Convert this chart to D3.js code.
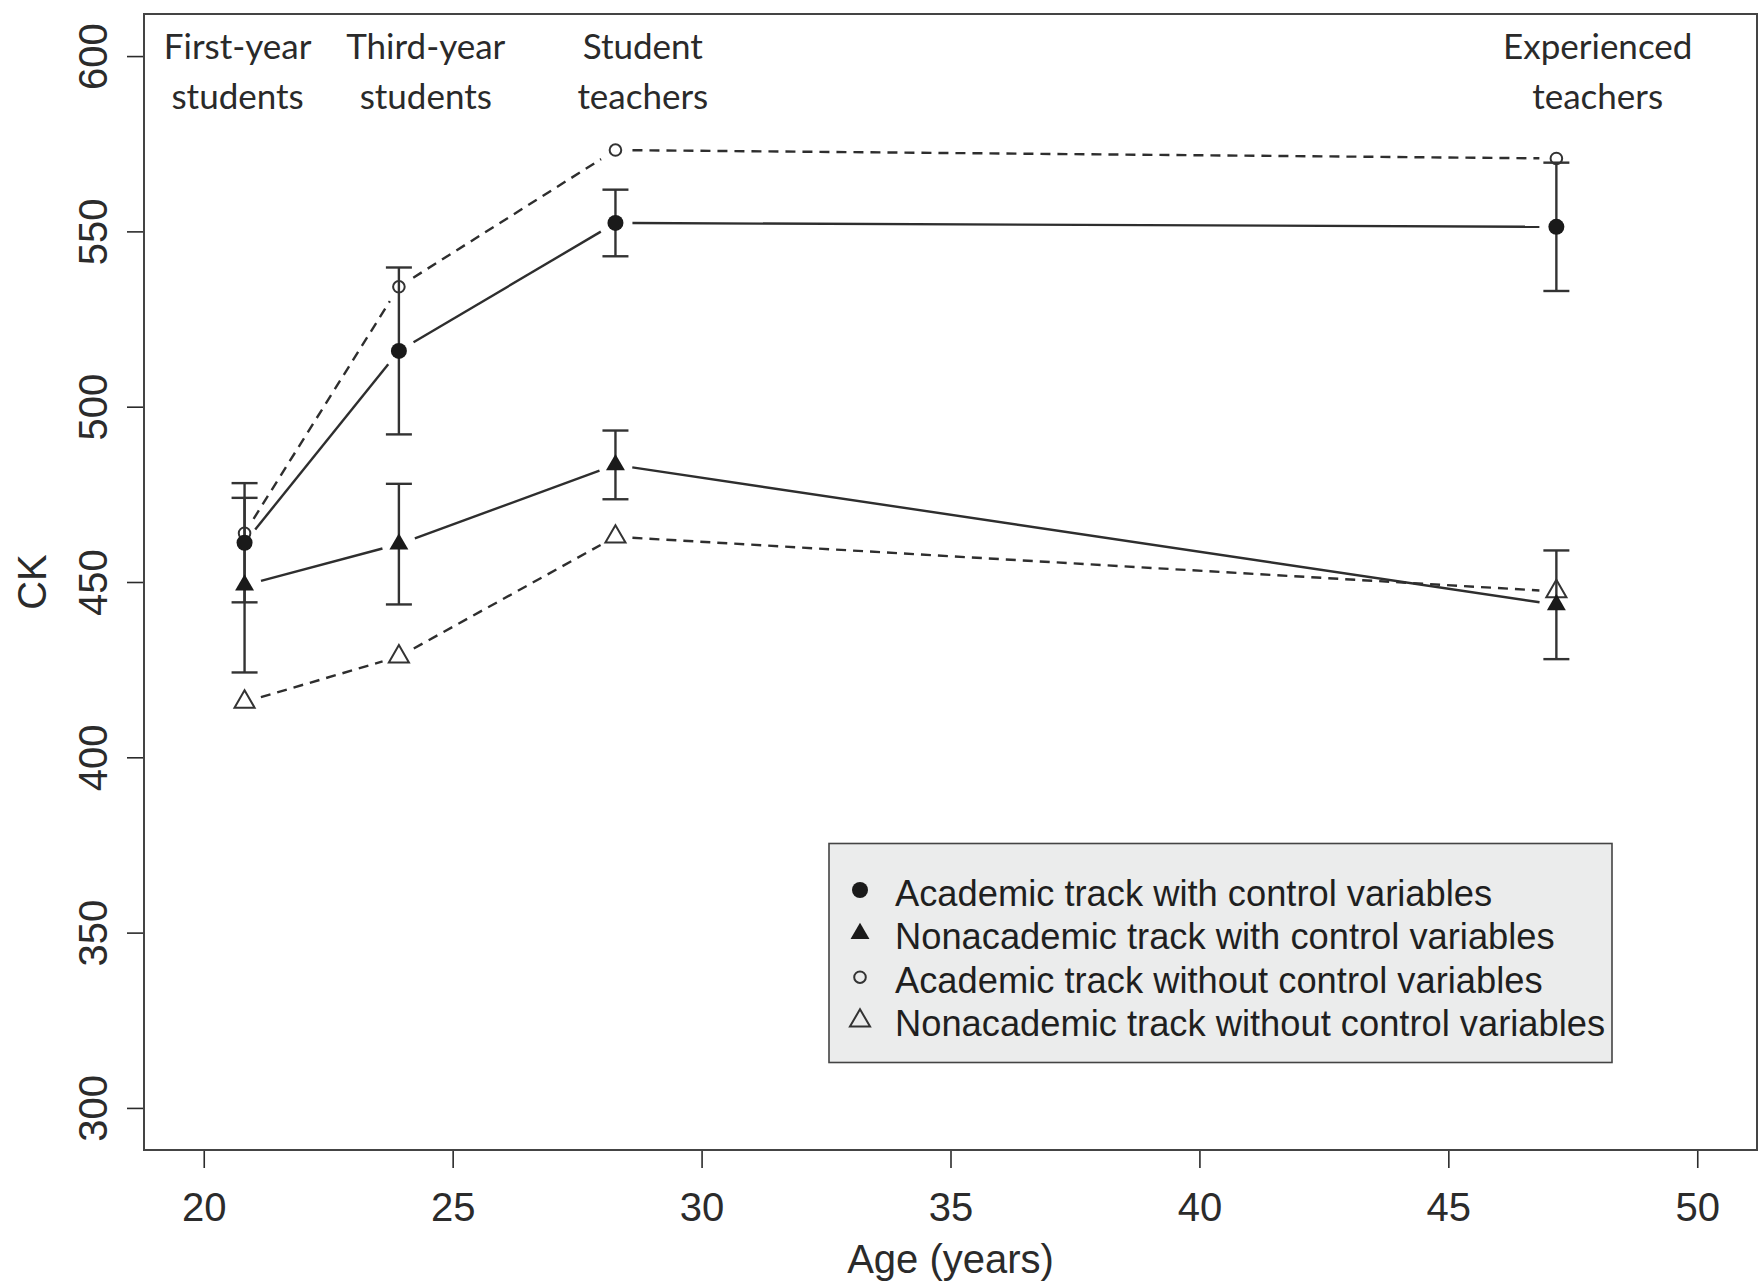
<!DOCTYPE html>
<html><head><meta charset="utf-8">
<script src="https://cdn.jsdelivr.net/npm/d3@7"></script>
<style>body{margin:0;background:#fff}</style>
</head><body><svg id="c" width="1760" height="1283"></svg>
<script>
// ---- data ----
const ages = [20.82, 23.92, 28.27, 47.17];
const academicCtrl = [461.2, 515.9, 552.4, 551.3];
const academicCtrlErr = [17.0, 23.8, 9.5, 18.3];
const nonacademicCtrl = [449.1, 460.8, 483.4, 443.5];
const nonacademicCtrlErr = [24.9, 17.2, 9.8, 15.5];
const academicNoCtrl = [463.9, 534.2, 573.2, 570.8];
const nonacademicNoCtrl = [415.8, 428.7, 462.9, 447.3];
const stageLabels = [["First-year","students"],["Third-year","students"],["Student","teachers"],["Experienced","teachers"]];
const stageLabelAge = [20.68, 24.46, 28.82, 48.0];
const xTicks = [20,25,30,35,40,45,50];
const yTicks = [300,350,400,450,500,550,600];
const legendLabels = ["Academic track with control variables","Nonacademic track with control variables","Academic track without control variables","Nonacademic track without control variables"];
const xTitle = "Age (years)";
const yTitle = "CK";

// ---- layout ----
const L = 144, R = 1757, T = 14, B = 1150;
const svg = d3.select("#c");
svg.append("rect").attr("width",1760).attr("height",1283).attr("fill","#fff");
const x = d3.scaleLinear().domain([18.8, 51.2]).range([L, R]);
const y = d3.scaleLinear().domain([288, 612]).range([B, T]);
const ink = "#2b2b2b";
const sans = "'Liberation Sans', Arial, Helvetica, sans-serif";

// axes
const gx = svg.append("g").attr("transform",`translate(0,${B})`)
  .call(d3.axisBottom(x).tickValues(xTicks).tickSize(18).tickSizeOuter(0).tickFormat(d3.format("d")));
gx.select(".domain").remove();
gx.selectAll("line").attr("stroke",ink).attr("stroke-width",1.6);
gx.selectAll("text").attr("font-family",sans).attr("font-size",40).attr("fill",ink)
  .attr("dy",0).attr("y",71);

const gy = svg.append("g").attr("transform",`translate(${L},0)`)
  .call(d3.axisLeft(y).tickValues(yTicks).tickSize(17).tickSizeOuter(0).tickFormat(d3.format("d")));
gy.select(".domain").remove();
gy.selectAll("line").attr("stroke",ink).attr("stroke-width",1.6);
gy.selectAll("text").attr("font-family",sans).attr("font-size",40).attr("fill",ink)
  .attr("transform","rotate(-90)").attr("x",0).attr("y",-37).attr("dy",0)
  .attr("text-anchor","middle");

// titles
svg.append("text").attr("x",(L+R)/2).attr("y",1273).attr("text-anchor","middle")
  .attr("font-family",sans).attr("font-size",40).attr("fill",ink).text(xTitle);
svg.append("text").attr("transform",`translate(46,${(T+B)/2}) rotate(-90)`).attr("text-anchor","middle")
  .attr("font-family",sans).attr("font-size",40).attr("fill",ink).text(yTitle);

// box
svg.append("rect").attr("x",L).attr("y",T).attr("width",R-L).attr("height",B-T)
  .attr("fill","none").attr("stroke","#444").attr("stroke-width",2);

// stage labels
stageLabels.forEach((lines,i)=>{
  lines.forEach((s,j)=>{
    svg.append("text").attr("x",x(stageLabelAge[i])).attr("y",59+50*j)
      .attr("text-anchor","middle").attr("font-family","Lato, 'Open Sans', sans-serif")
      .attr("font-size",35).attr("fill","#2a2a2a").text(s);
  });
});

// lines with gaps
const GAP = 17;
function gappedLine(vals, dashed){
  const g = svg.append("g");
  for(let i=0;i<vals.length-1;i++){
    const x1=x(ages[i]), y1=y(vals[i]), x2=x(ages[i+1]), y2=y(vals[i+1]);
    const d=Math.hypot(x2-x1,y2-y1), ux=(x2-x1)/d, uy=(y2-y1)/d;
    g.append("line").attr("x1",x1+ux*GAP).attr("y1",y1+uy*GAP)
      .attr("x2",x2-ux*GAP).attr("y2",y2-uy*GAP)
      .attr("stroke","#2e2e2e").attr("stroke-width",2.4)
      .attr("stroke-dasharray",dashed?"10,7":null);
  }
}
gappedLine(academicCtrl,false);
gappedLine(nonacademicCtrl,false);
gappedLine(academicNoCtrl,true);
gappedLine(nonacademicNoCtrl,true);

// error bars
function errBars(vals, errs){
  const g = svg.append("g").attr("stroke","#333").attr("stroke-width",2.4);
  vals.forEach((v,i)=>{
    const cx=x(ages[i]);
    g.append("line").attr("x1",cx).attr("x2",cx).attr("y1",y(v-errs[i])).attr("y2",y(v+errs[i]));
    [v-errs[i], v+errs[i]].forEach(e=>{
      g.append("line").attr("x1",cx-13).attr("x2",cx+13).attr("y1",y(e)).attr("y2",y(e));
    });
  });
}
errBars(academicCtrl, academicCtrlErr);
errBars(nonacademicCtrl, nonacademicCtrlErr);

// markers
const triFilled = d3.symbol().type(d3.symbolTriangle).size(155);
const triOpen = d3.symbol().type(d3.symbolTriangle).size(175);
function markers(vals, kind){
  vals.forEach((v,i)=>{
    drawMarker(kind, x(ages[i]), y(v));
  });
}
function drawMarker(kind,cx,cy){
  if(kind==="fc") svg.append("circle").attr("cx",cx).attr("cy",cy).attr("r",8).attr("fill","#1a1a1a");
  if(kind==="oc") svg.append("circle").attr("cx",cx).attr("cy",cy).attr("r",5.8).attr("fill","none").attr("stroke","#333").attr("stroke-width",2);
  if(kind==="ft") svg.append("path").attr("d",triFilled()).attr("transform",`translate(${cx},${cy})`).attr("fill","#1a1a1a");
  if(kind==="ot") svg.append("path").attr("d",triOpen()).attr("transform",`translate(${cx},${cy})`).attr("fill","none").attr("stroke","#333").attr("stroke-width",2);
}
markers(academicNoCtrl,"oc");
markers(nonacademicNoCtrl,"ot");
markers(academicCtrl,"fc");
markers(nonacademicCtrl,"ft");

// legend
const lg = svg.append("g");
lg.append("rect").attr("x",829).attr("y",843.5).attr("width",783).attr("height",219)
  .attr("fill","#ebecec").attr("stroke","#444").attr("stroke-width",1.6);
const kinds = ["fc","ft","oc","ot"];
legendLabels.forEach((s,i)=>{
  const cy = 893 + i*43.6;
  drawMarker(kinds[i], 860, cy-3);
  svg.append("text").attr("x",895).attr("y",cy+12.5).attr("font-family",sans)
    .attr("font-size",36.3).attr("fill","#1f1f1f").text(s);
});
</script></body></html>
